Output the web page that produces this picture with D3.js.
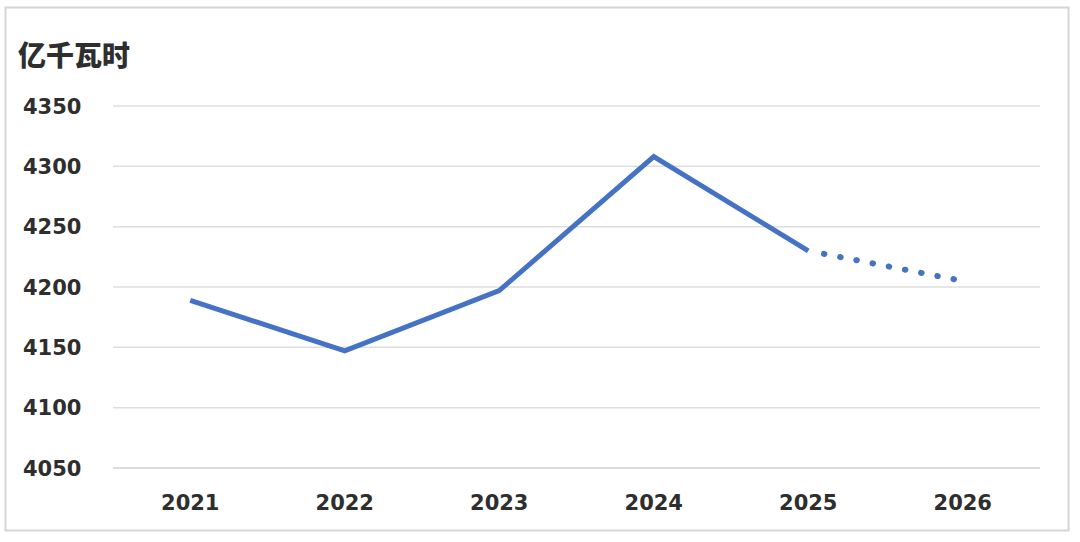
<!DOCTYPE html>
<html>
<head>
<meta charset="utf-8">
<script src="https://cdn.jsdelivr.net/npm/d3@7"></script>
<style>
  html, body { margin: 0; padding: 0; background: #fff; }
  svg { display: block; }
  .tick-label { font-family: "DejaVu Sans", sans-serif; font-weight: bold; font-size: 21px; fill: #2e2e2e; }
</style>
</head>
<body>
<script>
const years = ["2021", "2022", "2023", "2024", "2025", "2026"];
const values = [4189, 4147, 4197, 4308, 4230, 4205];
const yTicks = [4050, 4100, 4150, 4200, 4250, 4300, 4350];
const unitLabel = "亿千瓦时";
const forecastFrom = "2025";

const width = 1080;
const height = 542;

const svg = d3.select("body").append("svg")
  .attr("width", width)
  .attr("height", height);

// outer frame
svg.append("rect")
  .attr("x", 5.5).attr("y", 7.5)
  .attr("width", 1063).attr("height", 523)
  .attr("fill", "#fff")
  .attr("stroke", "#d6d6d6")
  .attr("stroke-width", 2);

const x = d3.scaleBand().domain(years).range([113, 1040]);
const y = d3.scaleLinear().domain([4050, 4350]).range([468, 106]);

// gridlines
svg.append("g").selectAll("line")
  .data(yTicks)
  .enter()
  .append("line")
  .attr("x1", 113).attr("x2", 1040)
  .attr("y1", (d) => y(d)).attr("y2", (d) => y(d))
  .attr("stroke", (d) => d === 4050 ? "#cfcfcf" : "#dedede")
  .attr("stroke-width", 1.5);

// y labels
svg.append("g").selectAll("text")
  .data(yTicks)
  .enter()
  .append("text")
  .attr("class", "tick-label")
  .attr("x", 23)
  .attr("y", (d) => y(d))
  .attr("dy", "0.36em")
  .text((d) => d);

// x labels
svg.append("g").selectAll("text")
  .data(years)
  .enter()
  .append("text")
  .attr("class", "tick-label")
  .attr("x", (d) => x(d) + x.bandwidth() / 2)
  .attr("y", 502)
  .attr("dy", "0.36em")
  .attr("text-anchor", "middle")
  .text((d) => d);

// unit title
svg.append("text")
  .attr("x", 18)
  .attr("y", 66)
  .attr("font-family", "'Noto Sans CJK SC', sans-serif")
  .attr("font-weight", 900)
  .attr("font-size", 28)
  .attr("fill", "#2e2e2e")
  .text(unitLabel);

const points = years.map((yr, i) => ({ year: yr, value: values[i] }));
const cut = years.indexOf(forecastFrom);
const line = d3.line()
  .x((d) => x(d.year) + x.bandwidth() / 2)
  .y((d) => y(d.value));

svg.append("path")
  .datum(points.slice(0, cut + 1))
  .attr("d", line)
  .attr("fill", "none")
  .attr("stroke", "#4472C4")
  .attr("stroke-width", 5)
  .attr("stroke-linejoin", "miter");

svg.append("path")
  .datum(points.slice(cut))
  .attr("d", line)
  .attr("fill", "none")
  .attr("stroke", "#4472C4")
  .attr("stroke-width", 6)
  .attr("stroke-linecap", "round")
  .attr("stroke-dasharray", "0.5 16")
  .attr("stroke-dashoffset", -16);
</script>
</body>
</html>
